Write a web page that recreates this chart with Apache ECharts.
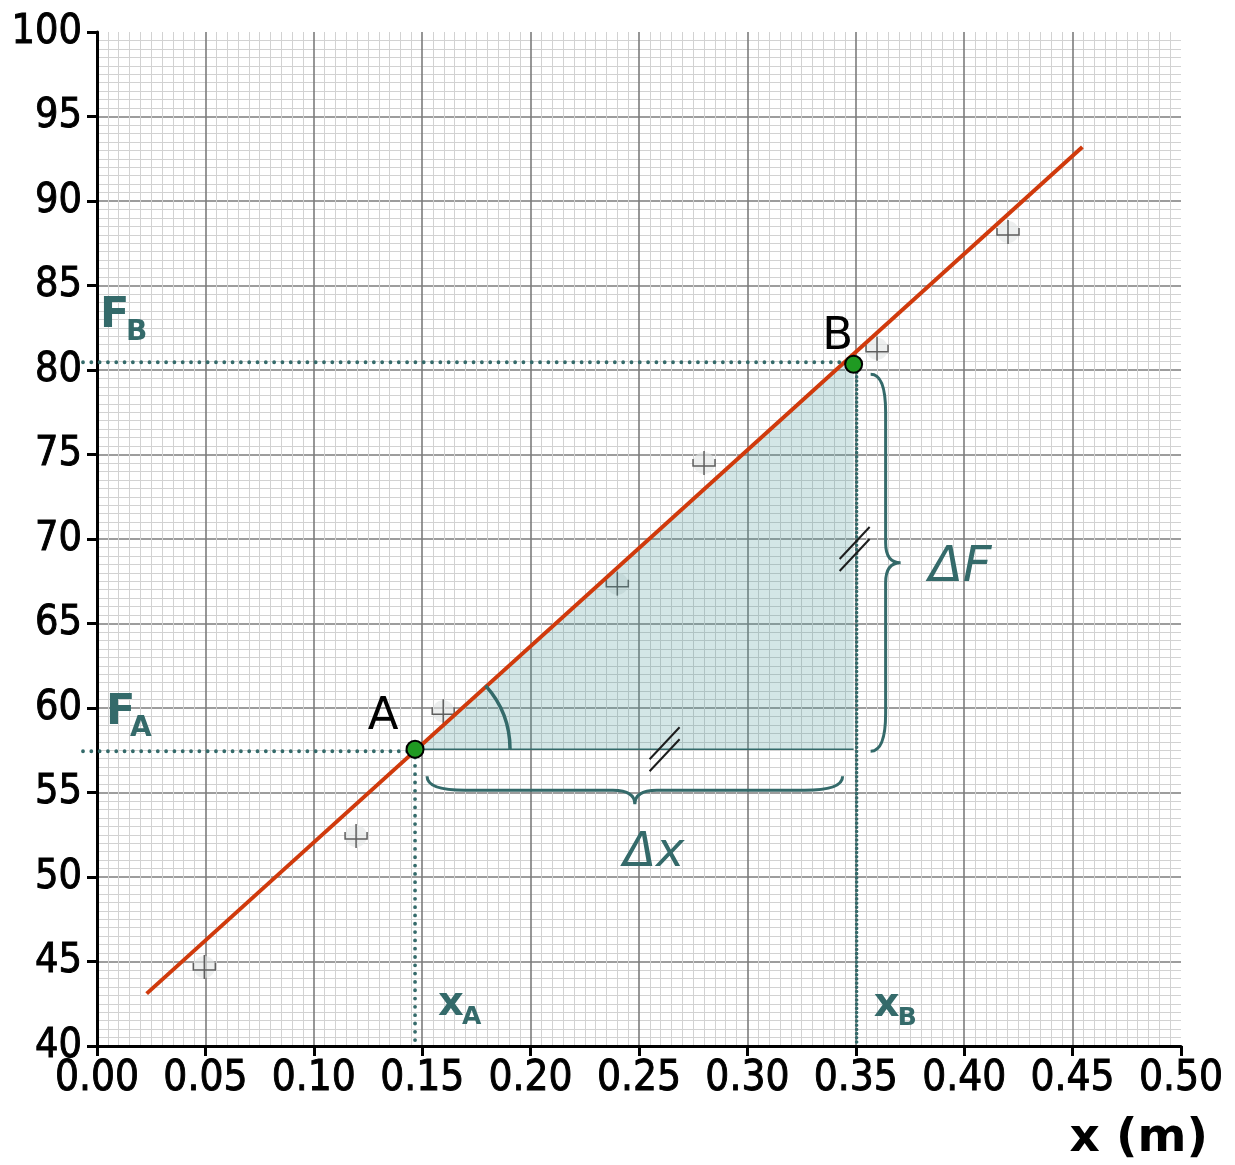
<!DOCTYPE html>
<html>
<head>
<meta charset="utf-8">
<script src="https://cdn.jsdelivr.net/npm/echarts@6/dist/echarts.min.js"></script>
<style>
  html, body { margin: 0; padding: 0; background: #ffffff; }
  #chart { width: 1235px; height: 1165px; }
</style>
</head>
<body>
<div id="chart"></div>
<script>
// Measured spring data: extension x (m) and force F (N)
const measX = [0.0495, 0.1195, 0.1597, 0.2400, 0.2800, 0.3598, 0.4202];
const measF = [44.50, 52.25, 59.63, 67.18, 74.32, 81.08, 87.99];

// Best-fit line, drawn between its two end points
const fitLine = [[0.0229, 43.10], [0.4545, 93.20]];

// Points A and B read on the fitted line
const pointA = [0.1467, 57.56];
const pointB = [0.3490, 80.34];

// Axis ranges
const xRange = [0, 0.5];
const yRange = [40, 100];

const TEAL = '#346a6a';
const FONT = "'DejaVu Sans Condensed', 'DejaVu Sans', sans-serif";
const FONT_W = "'DejaVu Sans', sans-serif";

function lineY(x) {
  const [[x1, y1], [x2, y2]] = fitLine;
  return y1 + (y2 - y1) * (x - x1) / (x2 - x1);
}

// Curly brace from p1 to p2, bulging along unit normal n
function bracePath(p1, p2, n, h, rEnd, rTip) {
  const L = Math.hypot(p2[0] - p1[0], p2[1] - p1[1]);
  const t = [(p2[0] - p1[0]) / L, (p2[1] - p1[1]) / L];
  const m = [(p1[0] + p2[0]) / 2, (p1[1] + p2[1]) / 2];
  const P = (b, a, c) => (b[0] + t[0] * a + n[0] * c).toFixed(2) + ' ' + (b[1] + t[1] * a + n[1] * c).toFixed(2);
  return 'M ' + P(p1, 0, 0) +
    ' Q ' + P(p1, 0, h) + ' ' + P(p1, rEnd, h) +
    ' L ' + P(m, -rTip, h) +
    ' Q ' + P(m, 0, h) + ' ' + P(m, 0, 2 * h) +
    ' Q ' + P(m, 0, h) + ' ' + P(m, rTip, h) +
    ' L ' + P(p2, -rEnd, h) +
    ' Q ' + P(p2, 0, h) + ' ' + P(p2, 0, 0);
}

function hashMark(cx, cy) {
  const s = { stroke: '#1c1c1c', lineWidth: 2 };
  return [
    { type: 'line', shape: { x1: cx - 15, y1: cy - 6 + 16, x2: cx + 15, y2: cy - 6 - 16 }, style: s },
    { type: 'line', shape: { x1: cx - 15, y1: cy + 6 + 16, x2: cx + 15, y2: cy + 6 - 16 }, style: s }
  ];
}

function txt(x, y, text, font, fill, align) {
  return {
    type: 'text', x: x, y: y,
    style: { text: text, font: font, fill: fill, align: align || 'left', verticalAlign: 'middle' }
  };
}

const chart = echarts.init(document.getElementById('chart'), null, { renderer: 'canvas' });

const axisCommon = {
  type: 'value',
  axisLine: { show: true, onZero: false, lineStyle: { color: '#000', width: 3 } },
  axisTick: { show: true, length: 10, lineStyle: { color: '#000', width: 3 } },
  splitLine: { show: true, showMaxLine: false, lineStyle: { color: '#7c7c7c', width: 1.6 } },
  minorTick: { show: false, splitNumber: 10 },
  minorSplitLine: { show: true, lineStyle: { color: '#d2d2d2', width: 1 } }
};

const labelCommon = {
  interval: 0, color: '#000', fontFamily: FONT,
  textBorderColor: '#000', textBorderWidth: 0.9
};

const option = {
  animation: false,
  backgroundColor: '#ffffff',
  grid: { left: 97, right: 54, top: 32, bottom: 119 },
  xAxis: Object.assign({}, axisCommon, {
    min: xRange[0], max: xRange[1], interval: 0.05,
    axisLabel: Object.assign({}, labelCommon, {
      formatter: v => v.toFixed(2), fontSize: 42, margin: 12
    })
  }),
  yAxis: Object.assign({}, axisCommon, {
    min: yRange[0], max: yRange[1], interval: 5,
    axisLabel: Object.assign({}, labelCommon, {
      formatter: v => String(v), fontSize: 41, margin: 15
    })
  }),
  graphic: [{
    type: 'text', right: 27, top: 1115,
    style: { text: 'x (m)', font: "bold 47px " + FONT_W, fill: '#000' }
  }],
  series: [
    // measurement markers (small error crosses)
    {
      type: 'custom', z: 2, silent: true,
      data: measX.map((x, i) => [x, measF[i]]),
      renderItem(params, api) {
        const p = api.coord([api.value(0), api.value(1)]);
        const s = { stroke: '#5e5e5e', lineWidth: 1.5, fill: null };
        return {
          type: 'group', children: [
            { type: 'circle', shape: { cx: p[0], cy: p[1] - 3, r: 11 }, style: { fill: 'rgba(225,228,228,0.6)' } },
            { type: 'polyline', shape: { points: [[p[0] - 11, p[1] - 7], [p[0] - 11, p[1]], [p[0] + 11, p[1]], [p[0] + 11, p[1] - 7]] }, style: s },
            { type: 'line', shape: { x1: p[0], y1: p[1] - 15, x2: p[0], y2: p[1] + 9 }, style: s }
          ]
        };
      }
    },
    // shaded slope triangle
    {
      type: 'custom', z: 3, silent: true,
      data: [pointA],
      renderItem(params, api) {
        const A = api.coord(pointA);
        const T = api.coord([pointB[0], lineY(pointB[0])]);
        const C = api.coord([pointB[0], pointA[1]]);
        return {
          type: 'group', children: [
            { type: 'polygon', shape: { points: [A, T, C] }, style: { fill: 'rgba(70,150,150,0.24)' } },
            { type: 'line', shape: { x1: A[0], y1: A[1], x2: C[0], y2: C[1] }, style: { stroke: TEAL, lineWidth: 1.6 } }
          ]
        };
      }
    },
    // fitted straight line
    {
      type: 'line', z: 4, silent: true, symbol: 'none',
      data: fitLine,
      lineStyle: { color: '#d03a0c', width: 4 }
    },
    // guides, angle, braces, hash marks and labels
    {
      type: 'custom', z: 5, silent: true,
      data: [pointA],
      renderItem(params, api) {
        const A = api.coord(pointA);
        const B = api.coord(pointB);
        const C = api.coord([pointB[0], pointA[1]]);
        const x0 = api.coord([xRange[0], yRange[0]]);
        const leftX = x0[0] - 14;
        const bottomY = x0[1];
        const dot = { stroke: TEAL, lineWidth: 3.8, lineCap: 'round', lineDash: [0.01, 8.3] };
        const dotDense = { stroke: TEAL, lineWidth: 3.6, lineCap: 'round', lineDash: [0.01, 4.2] };
        const L2 = api.coord(fitLine[1]);
        const ang = Math.atan2(A[1] - L2[1], L2[0] - A[0]);
        const children = [
          { type: 'line', shape: { x1: leftX, y1: A[1] + 2, x2: A[0], y2: A[1] + 2 }, style: dot },
          { type: 'line', shape: { x1: leftX, y1: B[1] - 2, x2: B[0], y2: B[1] - 2 }, style: dot },
          { type: 'line', shape: { x1: A[0], y1: A[1], x2: A[0], y2: bottomY }, style: dot },
          { type: 'line', shape: { x1: C[0] + 3, y1: B[1], x2: C[0] + 3, y2: bottomY }, style: dotDense },
          { type: 'arc', shape: { cx: A[0], cy: A[1], r: 95, startAngle: -ang, endAngle: 0, clockwise: true },
            style: { stroke: TEAL, lineWidth: 3.5, fill: null } },
          { type: 'path', shape: { pathData: bracePath([A[0] + 12, A[1] + 27], [C[0] - 11, A[1] + 27], [0, 1], 14, 38, 22) },
            style: { stroke: TEAL, lineWidth: 3, fill: null } },
          { type: 'path', shape: { pathData: bracePath([C[0] + 17, B[1] + 10], [C[0] + 17, A[1] + 2], [1, 0], 15, 38, 20) },
            style: { stroke: TEAL, lineWidth: 3, fill: null } }
        ];
        const H1 = [A[0] + (C[0] - A[0]) * 0.569, A[1]];
        const H2 = [C[0], C[1] + (B[1] - C[1]) * 0.52];
        children.push(...hashMark(H1[0], H1[1]), ...hashMark(H2[0] + 1, H2[1]));

        const midX = (A[0] + 12 + C[0] - 11) / 2;
        const midY = (B[1] + 10 + A[1] + 2) / 2;
        children.push(
          txt(A[0] - 32, A[1] - 32, 'A', '45px ' + FONT_W, '#000', 'center'),
          txt(B[0] - 16, B[1] - 27, 'B', '45px ' + FONT_W, '#000', 'center'),
          txt(C[0] + 75, midY + 5, '\u0394F', 'italic 50px ' + FONT_W, TEAL, 'left'),
          txt(midX + 19, A[1] + 104, '\u0394x', 'italic 48px ' + FONT_W, TEAL, 'center'),
          // F_B and F_A on the left
          txt(x0[0] + 3, B[1] - 48, 'F', 'bold 43px ' + FONT_W, TEAL, 'left'),
          txt(x0[0] + 29, B[1] - 32, 'B', 'bold 28px ' + FONT_W, TEAL, 'left'),
          txt(x0[0] + 9, A[1] - 36, 'F', 'bold 43px ' + FONT_W, TEAL, 'left'),
          txt(x0[0] + 33, A[1] - 21, 'A', 'bold 28px ' + FONT_W, TEAL, 'left'),
          // x_A and x_B near the x axis
          txt(A[0] + 23, bottomY - 41, 'x', 'bold 40px ' + FONT_W, TEAL, 'left'),
          txt(A[0] + 47, bottomY - 29, 'A', 'bold 25px ' + FONT_W, TEAL, 'left'),
          txt(C[0] + 20, bottomY - 40, 'x', 'bold 40px ' + FONT_W, TEAL, 'left'),
          txt(C[0] + 44, bottomY - 28, 'B', 'bold 25px ' + FONT_W, TEAL, 'left')
        );
        return { type: 'group', children: children };
      }
    },
    // points A and B
    {
      type: 'scatter', z: 6, silent: true,
      data: [pointA, pointB],
      symbolSize: 17,
      itemStyle: { color: '#1f9a22', borderColor: '#000', borderWidth: 2, opacity: 1 }
    }
  ]
};

chart.setOption(option);
</script>
</body>
</html>
